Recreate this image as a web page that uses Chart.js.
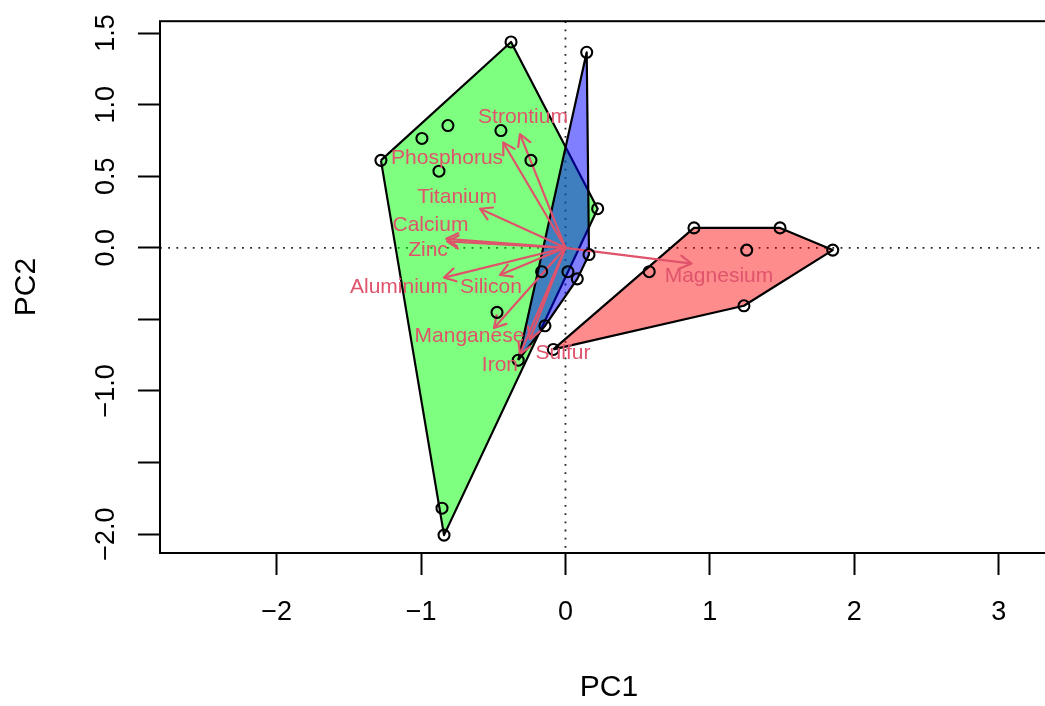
<!DOCTYPE html>
<html>
<head>
<meta charset="utf-8">
<script src="https://cdn.jsdelivr.net/npm/chart.js@4.4.0/dist/chart.umd.min.js"></script>
<style>
  html, body { margin: 0; padding: 0; overflow: hidden; background: #fff; }
  canvas { display: block; }
</style>
</head>
<body>
<canvas id="biplot" width="1080" height="706"></canvas>
<script>
// --- scores per group (PC1, PC2) ---
const greenPC1 = [-1.278, -0.377, 0.223, -0.994, -0.814, -0.876, -0.447, -0.239, -0.841, -0.855, -0.474];
const greenPC2 = [0.611, 1.438, 0.273, 0.764, 0.854, 0.535, 0.819, 0.611, -2.007, -1.819, -0.451];
const bluePC1 = [0.147, 0.163, 0.082, -0.142, -0.327, 0.017, -0.165];
const bluePC2 = [1.366, -0.047, -0.217, -0.545, -0.785, -0.167, -0.167];
const redPC1 = [-0.084, 0.890, 1.486, 1.851, 1.236, 1.255, 0.580];
const redPC2 = [-0.710, 0.139, 0.139, -0.016, -0.405, -0.016, -0.167];

// --- loadings (arrow tips) and where their labels sit ---
const varNames = ['Strontium', 'Phosphorus', 'Titanium', 'Calcium', 'Zinc', 'Aluminium',
                  'Silicon', 'Manganese', 'Iron', 'Sulfur', 'Magnesium'];
const arrowPC1 = [-0.315, -0.431, -0.592, -0.825, -0.820, -0.841, -0.454, -0.495, -0.315, -0.246, 0.874];
const arrowPC2 = [0.794, 0.736, 0.273, 0.063, 0.045, -0.208, -0.190, -0.560, -0.743, -0.639, -0.110];
const labelPC1 = [-0.294, -0.820, -0.751, -0.935, -0.952, -1.153, -0.516, -0.665, -0.454, -0.017, 1.063];
const labelPC2 = [0.910, 0.625, 0.354, 0.158, -0.016, -0.278, -0.278, -0.618, -0.819, -0.734, -0.201];

// --- axis ticks ---
const xTicks = [-2, -1, 0, 1, 2, 3];
const xTickLabels = ['\u22122', '\u22121', '0', '1', '2', '3'];
const yTicks = [-2, -1.5, -1, -0.5, 0, 0.5, 1, 1.5];
const yTickLabels = ['\u22122.0', '', '\u22121.0', '', '0.0', '0.5', '1.0', '1.5'];

const arrowColor = '#DF536B';
const fontFam = "'Liberation Sans', Arial, sans-serif";

function toPoints(xs, ys) {
  return xs.map((x, i) => ({ x: x, y: ys[i] }));
}

// convex hull (monotone chain), closed
function hull(xs, ys) {
  const p = toPoints(xs, ys).sort((a, b) => a.x - b.x || a.y - b.y);
  const cross = (o, a, b) => (a.x - o.x) * (b.y - o.y) - (a.y - o.y) * (b.x - o.x);
  const lower = [], upper = [];
  p.forEach(q => {
    while (lower.length >= 2 && cross(lower[lower.length - 2], lower[lower.length - 1], q) <= 0) lower.pop();
    lower.push(q);
  });
  p.slice().reverse().forEach(q => {
    while (upper.length >= 2 && cross(upper[upper.length - 2], upper[upper.length - 1], q) <= 0) upper.pop();
    upper.push(q);
  });
  const h = lower.slice(0, -1).concat(upper.slice(0, -1));
  h.push(h[0]);
  return h;
}

function hullSet(xs, ys, fillCol, ord) {
  return {
    type: 'line',
    data: hull(xs, ys),
    borderColor: '#000',
    borderWidth: 2.2,
    borderJoinStyle: 'round',
    backgroundColor: fillCol,
    fill: 'shape',
    tension: 0,
    pointRadius: 0,
    order: ord
  };
}

const datasets = [];
datasets.push({
  type: 'scatter',
  data: toPoints(greenPC1.concat(bluePC1, redPC1), greenPC2.concat(bluePC2, redPC2)),
  pointStyle: 'circle',
  pointRadius: 5.5,
  pointBorderWidth: 2.1,
  borderColor: '#000',
  backgroundColor: 'rgba(0,0,0,0)',
  order: 0
});
varNames.forEach((n, i) => {
  datasets.push({
    type: 'line',
    data: [{ x: 0, y: 0 }, { x: arrowPC1[i], y: arrowPC2[i] }],
    borderColor: arrowColor,
    borderWidth: 2.2,
    pointRadius: 0,
    fill: false,
    isArrow: true,
    order: 1
  });
});
datasets.push(hullSet(redPC1, redPC2, 'rgba(255,0,0,0.45)', 2));
datasets.push(hullSet(bluePC1, bluePC2, 'rgba(0,0,255,0.5)', 3));
datasets.push(hullSet(greenPC1, greenPC2, 'rgba(0,255,0,0.5)', 4));

// dotted zero lines under everything
const zeroLines = {
  id: 'zeroLines',
  beforeDatasetsDraw(chart) {
    const { ctx, chartArea: a, scales: { x, y } } = chart;
    const x0 = x.getPixelForValue(0), y0 = y.getPixelForValue(0);
    ctx.save();
    ctx.strokeStyle = '#222';
    ctx.lineWidth = 1.8;
    ctx.setLineDash([1.8, 6.4]);
    ctx.beginPath();
    ctx.moveTo(a.left, y0); ctx.lineTo(a.right, y0);
    ctx.moveTo(x0, a.top); ctx.lineTo(x0, a.bottom);
    ctx.stroke();
    ctx.restore();
  }
};

// open arrow heads at the end of each loading line
const arrowHeads = {
  id: 'arrowHeads',
  afterDatasetDraw(chart, args) {
    const ds = chart.data.datasets[args.index];
    if (!ds.isArrow) return;
    const a = args.meta.data[0], b = args.meta.data[1];
    const ang = Math.atan2(b.y - a.y, b.x - a.x);
    const len = 13, wing = Math.PI / 6;
    const ctx = chart.ctx;
    ctx.save();
    ctx.strokeStyle = ds.borderColor;
    ctx.lineWidth = ds.borderWidth;
    ctx.lineCap = 'round';
    ctx.lineJoin = 'round';
    ctx.beginPath();
    ctx.moveTo(b.x - len * Math.cos(ang - wing), b.y - len * Math.sin(ang - wing));
    ctx.lineTo(b.x, b.y);
    ctx.lineTo(b.x - len * Math.cos(ang + wing), b.y - len * Math.sin(ang + wing));
    ctx.stroke();
    ctx.restore();
  }
};

// variable names and the plot box
const varLabels = {
  id: 'varLabels',
  afterDatasetsDraw(chart) {
    const { ctx, scales: { x, y } } = chart;
    ctx.save();
    ctx.fillStyle = arrowColor;
    ctx.font = '21px ' + fontFam;
    ctx.textAlign = 'center';
    ctx.textBaseline = 'middle';
    varNames.forEach((n, i) => {
      ctx.fillText(n, x.getPixelForValue(labelPC1[i]), y.getPixelForValue(labelPC2[i]));
    });
    ctx.restore();
  },
  afterDraw(chart) {
    const { ctx, chartArea: a } = chart;
    ctx.save();
    ctx.strokeStyle = '#000';
    ctx.lineWidth = 2;
    ctx.strokeRect(a.left, a.top, a.right - a.left, a.bottom - a.top);
    ctx.restore();
  }
};

new Chart(document.getElementById('biplot'), {
  type: 'scatter',
  data: { datasets: datasets },
  options: {
    responsive: false,
    animation: false,
    events: [],
    layout: { padding: { top: 18, right: 22, left: 0, bottom: 0 } },
    plugins: { legend: { display: false }, tooltip: { enabled: false } },
    scales: {
      x: {
        type: 'linear',
        min: -2.808,
        max: 3.411,
        afterBuildTicks: s => { s.ticks = xTicks.map(v => ({ value: v })); },
        afterFit: s => { s.height = 153; },
        grid: { drawOnChartArea: false, drawTicks: true, tickLength: 22, tickColor: '#000', tickWidth: 2 },
        border: { display: false },
        ticks: {
          autoSkip: false,
          maxRotation: 0,
          padding: 21,
          color: '#000',
          font: { size: 27, family: fontFam },
          callback: v => xTickLabels[xTicks.indexOf(v)]
        },
        title: { display: true, text: 'PC1', color: '#000', font: { size: 30, family: fontFam }, padding: { top: 0, bottom: 0 } }
      },
      y: {
        type: 'linear',
        min: -2.132,
        max: 1.583,
        afterBuildTicks: s => { s.ticks = yTicks.map(v => ({ value: v })); },
        afterFit: s => { s.width = 160; },
        grid: { drawOnChartArea: false, drawTicks: true, tickLength: 22, tickColor: '#000', tickWidth: 2 },
        border: { display: false },
        ticks: {
          autoSkip: false,
          minRotation: 90,
          maxRotation: 90,
          crossAlign: 'center',
          padding: 5,
          color: '#000',
          font: { size: 27, family: fontFam },
          callback: v => yTickLabels[yTicks.indexOf(v)]
        },
        title: { display: true, text: 'PC2', color: '#000', font: { size: 30, family: fontFam }, padding: { top: 9, bottom: 0 } }
      }
    }
  },
  plugins: [zeroLines, arrowHeads, varLabels]
});
</script>
</body>
</html>
